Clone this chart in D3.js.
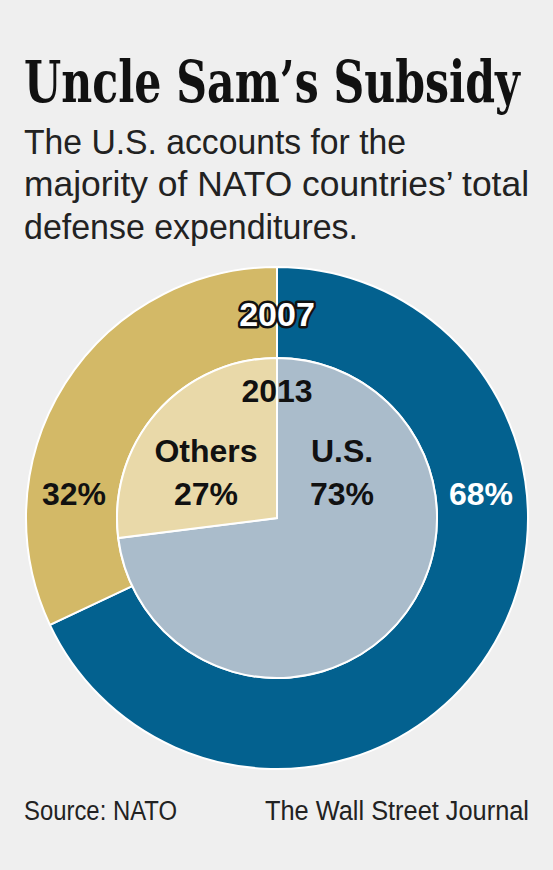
<!DOCTYPE html>
<html>
<head>
<meta charset="utf-8">
<script src="https://cdn.jsdelivr.net/npm/d3@7"></script>
<style>
  body { margin: 0; background: #efefef; }
  svg { display: block; }
</style>
</head>
<body>
<div id="chartDiv"></div>
<script>
// Data
const groups = ["U.S.", "Others"];
const share2007 = [68, 32];   // outer ring
const share2013 = [73, 27];   // inner pie
const years = ["2007", "2013"];

const width = 553, height = 870;
const cx = 277, cy = 518;
const rOuter = 251, rInner = 160;

const colors2007 = {"U.S.": "#03618f", "Others": "#d3b967"};
const colors2013 = {"U.S.": "#aabccb", "Others": "#e9d9a9"};

let svg = d3.select("#chartDiv")
     .append("svg")
     .attr("width", width)
     .attr("height", height);

svg.append("rect")
     .attr("width", width)
     .attr("height", height)
     .attr("fill", "#efefef");

// Title: squeeze horizontally to fit the reference width
let title = svg.append("text")
     .attr("x", 0)
     .attr("y", 0)
     .attr("font-family", "'DejaVu Serif Condensed', 'DejaVu Serif', serif")
     .attr("font-weight", "bold")
     .attr("font-size", 58)
     .attr("fill", "#111")
     .text("Uncle Sam\u2019s Subsidy");
let natural = title.node().getComputedTextLength();
title.attr("transform", "translate(24,102) scale(" + (496 / natural) + ",1)");

const subLines = [
     {t: "The U.S. accounts for the", y: 154, w: 382},
     {t: "majority of NATO countries\u2019 total", y: 196, w: 505},
     {t: "defense expenditures.", y: 239, w: 334}
];
svg.selectAll("text.sub")
     .data(subLines)
     .enter()
     .append("text")
       .attr("class", "sub")
       .attr("x", 24)
       .attr("y", d => d.y)
       .attr("font-family", "'Liberation Sans Narrow', 'Liberation Sans', sans-serif")
       .attr("font-size", 35)
       .attr("textLength", d => d.w)
       .attr("lengthAdjust", "spacingAndGlyphs")
       .attr("fill", "#222")
       .text(d => d.t);

// Pies
let pie = d3.pie().sort(null).value(d => d.v);
let outerArc = d3.arc().innerRadius(rInner).outerRadius(rOuter);
let innerArc = d3.arc().innerRadius(0).outerRadius(rInner);

let g = svg.append("g")
     .attr("transform", "translate(" + cx + "," + cy + ")");

let data2007 = groups.map((k, i) => ({k: k, v: share2007[i]}));
let data2013 = groups.map((k, i) => ({k: k, v: share2013[i]}));

g.selectAll("path.outer")
     .data(pie(data2007))
     .enter()
     .append("path")
       .attr("class", "outer")
       .attr("d", outerArc)
       .attr("fill", d => colors2007[d.data.k])
       .attr("stroke", "#ffffff")
       .attr("stroke-width", 2);

g.selectAll("path.inner")
     .data(pie(data2013))
     .enter()
     .append("path")
       .attr("class", "inner")
       .attr("d", innerArc)
       .attr("fill", d => colors2013[d.data.k])
       .attr("stroke", "#ffffff")
       .attr("stroke-width", 2);

// Labels
const labelFont = "'Liberation Sans', Arial, sans-serif";
function label(x, y, txt, fill, outline, size) {
     let t = g.append("text")
          .attr("x", x)
          .attr("y", y)
          .attr("text-anchor", "middle")
          .attr("font-family", labelFont)
          .attr("font-weight", "bold")
          .attr("font-size", size || 32)
          .attr("fill", fill)
          .text(txt);
     if (outline) {
          t.attr("stroke", "#111")
           .attr("stroke-width", 5)
           .attr("paint-order", "stroke")
           .attr("stroke-linejoin", "round");
     }
     return t;
}

label(0, 326 - cy, years[0], "#ffffff", true, 34);
label(0, 402 - cy, years[1], "#111", false);

// inner
label(206 - cx, 462 - cy, groups[1], "#111", false);
label(206 - cx, 505 - cy, share2013[1] + "%", "#111", false);
label(342 - cx, 462 - cy, groups[0], "#111", false);
label(342 - cx, 505 - cy, share2013[0] + "%", "#111", false);
// outer
label(74 - cx, 505 - cy, share2007[1] + "%", "#111", false);
label(481 - cx, 505 - cy, share2007[0] + "%", "#ffffff", false);

// Footer
svg.append("text")
     .attr("x", 24)
     .attr("y", 820)
     .attr("font-family", "'Liberation Sans Narrow', 'Liberation Sans', sans-serif")
     .attr("font-size", 27)
     .attr("textLength", 153)
     .attr("lengthAdjust", "spacingAndGlyphs")
     .attr("fill", "#222")
     .text("Source: NATO");

svg.append("text")
     .attr("x", 529)
     .attr("y", 820)
     .attr("text-anchor", "end")
     .attr("font-family", "'Liberation Sans Narrow', 'Liberation Sans', sans-serif")
     .attr("font-size", 27)
     .attr("textLength", 264)
     .attr("lengthAdjust", "spacingAndGlyphs")
     .attr("fill", "#222")
     .text("The Wall Street Journal");
</script>
</body>
</html>
